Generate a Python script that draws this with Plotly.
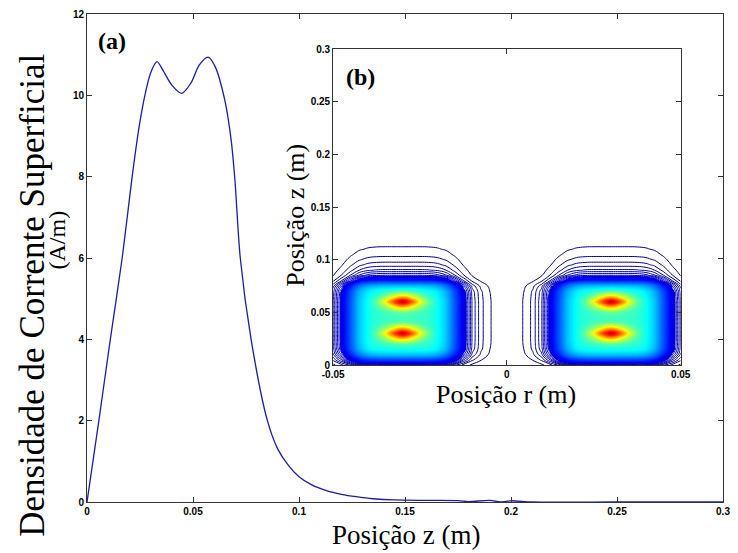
import plotly.graph_objects as go

# ---------------- main curve (a) ----------------
Z_POS = [0.0, 0.0056, 0.0110, 0.0166, 0.0213, 0.0245, 0.0273,
         0.030, 0.0330, 0.036, 0.040, 0.0447, 0.049, 0.053, 0.0572, 0.0605, 0.065,
         0.068, 0.0698, 0.0723, 0.0774, 0.0851, 0.090, 0.095, 0.100, 0.106, 0.113, 0.120,
         0.127, 0.135, 0.145, 0.160, 0.175, 0.180, 0.190, 0.195, 0.200, 0.210, 0.250, 0.300]
J_SURF = [0.0, 2.0, 4.0, 6.0, 8.0, 9.2, 10.0,
          10.55, 10.83, 10.6, 10.25, 10.05, 10.3, 10.75, 10.94, 10.7, 9.88,
          8.9, 7.9, 6.0, 4.0, 2.0, 1.3, 0.9, 0.62, 0.42, 0.28, 0.19,
          0.13, 0.08, 0.05, 0.04, 0.035, 0.01, 0.04, 0.0, 0.03, 0.0, 0.0, 0.0]

X_TICKS = [0, 0.05, 0.1, 0.15, 0.2, 0.25, 0.3]
X_TICKTEXT = ["0", "0.05", "0.1", "0.15", "0.2", "0.25", "0.3"]
Y_TICKS = [0, 2, 4, 6, 8, 10, 12]

# ---------------- inset (b): field table ----------------
R_HALF = [-0.05, -0.0475, -0.045, -0.0425, -0.04, -0.0375, -0.035, -0.0325, -0.03, -0.0275,
          -0.025, -0.0225, -0.02, -0.0175, -0.015, -0.0125, -0.01, -0.0075, -0.005, -0.0025, 0.0]
A_HALF = [0.075, 0.17, 0.33, 0.50, 0.60, 0.64, 0.65, 0.65, 0.65, 0.65,
          0.65, 0.64, 0.60, 0.50, 0.33, 0.17, 0.075, 0.036, 0.017, 0.008, 0.0037]
C_HALF = [0.0, 0.0, 0.0, 0.0, 0.0, 0.06, 0.20, 0.38, 0.50, 0.38,
          0.20, 0.06, 0.0, 0.0, 0.0, 0.0, 0.0, 0.0, 0.0, 0.0, 0.0]

Z_IN = [0.0, 0.005, 0.01, 0.015, 0.02, 0.025, 0.03, 0.035, 0.04, 0.045,
        0.05, 0.055, 0.06, 0.065, 0.07, 0.075, 0.08, 0.085, 0.09, 0.095,
        0.10, 0.105, 0.11, 0.115, 0.12, 0.125, 0.30]
B_Z = [0.10, 0.30, 0.50, 0.61, 0.64, 0.65, 0.65, 0.65, 0.65, 0.65,
       0.65, 0.65, 0.65, 0.63, 0.60, 0.48, 0.24, 0.125, 0.080, 0.055,
       0.038, 0.026, 0.018, 0.0123, 0.0086, 0.006, 0.0]
D_Z = [0.0, 0.0, 0.0, 0.0, 0.10, 0.50, 1.0, 0.50, 0.10, 0.03,
       0.10, 0.50, 1.0, 0.50, 0.10, 0.0, 0.0, 0.0, 0.0, 0.0,
       0.0, 0.0, 0.0, 0.0, 0.0, 0.0, 0.0]

R_TICKS = [-0.05, 0, 0.05]
R_TICKTEXT = ["-0.05", "0", "0.05"]
ZI_TICKS = [0, 0.05, 0.1, 0.15, 0.2, 0.25, 0.3]
ZI_TICKTEXT = ["0", "0.05", "0.1", "0.15", "0.2", "0.25", "0.3"]

R_FULL = R_HALF + [-r for r in reversed(R_HALF[:-1])]
A_FULL = A_HALF + list(reversed(A_HALF[:-1]))
C_FULL = C_HALF + list(reversed(C_HALF[:-1]))
FIELD = [[A_FULL[i] * B_Z[j] + C_FULL[i] * D_Z[j] for i in range(len(R_FULL))]
         for j in range(len(Z_IN))]

JET = [[0.0, "rgb(0,0,110)"], [0.125, "rgb(0,0,255)"], [0.375, "rgb(0,255,255)"],
       [0.625, "rgb(255,255,0)"], [0.875, "rgb(255,0,0)"], [1.0, "rgb(128,0,0)"]]
FILL_CS = [[0.0, "white"], [0.0899, "white"], [0.09, "rgb(0,0,214)"], [0.125, "rgb(0,0,255)"],
           [0.375, "rgb(0,255,255)"], [0.625, "rgb(255,255,0)"], [0.875, "rgb(255,0,0)"],
           [1.0, "rgb(128,0,0)"]]

W, H = 738, 553
L, R, T, B = 87, 5, 14, 51
PW, PH = W - L - R, H - T - B


def px(x, y):
    return (x - L) / PW, (H - B - y) / PH


fig = go.Figure()
fig.add_trace(go.Scatter(x=Z_POS, y=J_SURF, mode="lines",
                         line=dict(color="#1c1ca8", width=1.3, shape="spline", smoothing=0.8),
                         showlegend=False, hoverinfo="skip"))

fig.add_trace(go.Contour(x=R_FULL, y=Z_IN, z=FIELD, colorscale=FILL_CS,
                         zmin=0, zmax=1, zauto=False, showscale=False,
                         contours=dict(start=0.01, end=1.0, size=0.01, showlines=False,
                                       coloring="heatmap"),
                         line=dict(width=0), xaxis="x2", yaxis="y2", hoverinfo="skip"))
fig.add_trace(go.Contour(x=R_FULL, y=Z_IN, z=FIELD, colorscale=JET,
                         zmin=0, zmax=1, zauto=False, showscale=False,
                         contours=dict(start=0.01, end=1.0, size=0.01, coloring="lines"),
                         line=dict(width=1, smoothing=1.3), xaxis="x2", yaxis="y2",
                         hoverinfo="skip"))

tickfont = dict(family="Liberation Sans Narrow, Arial Narrow, Arial, Liberation Sans",
                size=10, color="black", weight=700)
axcommon = dict(ticks="inside", ticklen=5, tickcolor="#333", showline=True, linecolor="#333",
                linewidth=1, mirror="ticks", showgrid=False, zeroline=False, tickfont=tickfont)

x0, x1 = px(337, 0)[0], px(690, 0)[0]
y0, y1 = px(0, 365)[1], px(0, 49)[1]

fig.update_layout(
    width=W, height=H, margin=dict(l=L, r=R, t=T, b=B),
    paper_bgcolor="white", plot_bgcolor="white", showlegend=False,
    xaxis=dict(domain=[0, 1], range=[0, 0.3], tickvals=X_TICKS, ticktext=X_TICKTEXT, **axcommon),
    yaxis=dict(domain=[0, 1], range=[0, 12], tickvals=Y_TICKS, **axcommon),
    xaxis2=dict(domain=[x0, x1], range=[-0.05, 0.05], anchor="y2", tickvals=R_TICKS,
                ticktext=R_TICKTEXT, **axcommon),
    yaxis2=dict(domain=[y0, y1], range=[0, 0.3], anchor="x2", tickvals=ZI_TICKS,
                ticktext=ZI_TICKTEXT, **axcommon),
)

serif = "Liberation Serif, Times New Roman, serif"


def ann(text, x, y, size, angle=0, bold=False):
    ax, ay = px(x, y)
    fig.add_annotation(text=text, x=ax, y=ay, xref="paper", yref="paper", showarrow=False,
                       xanchor="center", yanchor="middle", textangle=angle,
                       font=dict(family=serif, size=size, color="black",
                                 weight="bold" if bold else "normal"))


ann("(a)", 112, 41, 24, bold=True)
ann("(b)", 365, 77, 24, bold=True)
ann("Densidade de Corrente Superficial", 31, 295, 35, angle=-90)
ann("(A/m)", 57, 240, 24, angle=-90)
ann("Posição z (m)", 411, 535, 27)
ann("Posição z (m)", 298, 215, 26, angle=-90)
ann("Posição r (m)", 513, 394, 26)

fig.write_html("out.html")
